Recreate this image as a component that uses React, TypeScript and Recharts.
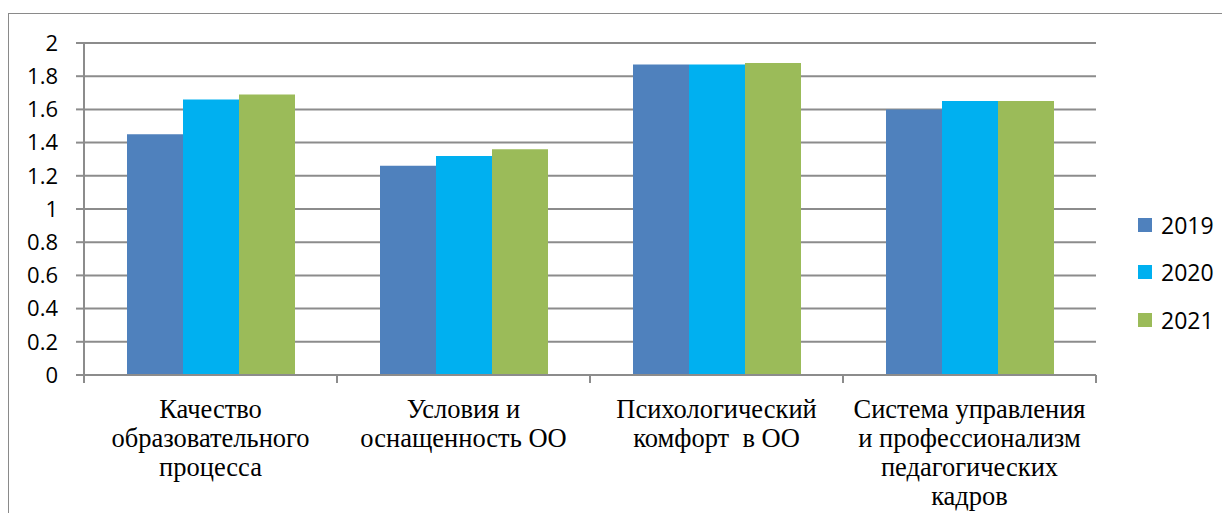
import React from 'react';
import { BarChart, Bar, XAxis, YAxis, CartesianGrid } from 'recharts';

const categories = [
  'Качество\nобразовательного\nпроцесса',
  'Условия и\nоснащенность ОО',
  'Психологический\nкомфорт  в ОО',
  'Система управления\nи профессионализм\nпедагогических\nкадров',
];

const values2019 = [1.45, 1.26, 1.87, 1.6];
const values2020 = [1.66, 1.32, 1.87, 1.65];
const values2021 = [1.69, 1.36, 1.88, 1.65];

const yTicks = [0, 0.2, 0.4, 0.6, 0.8, 1, 1.2, 1.4, 1.6, 1.8, 2];

const series = [
  { key: 'y2019', name: '2019', color: '#4F81BD', values: values2019 },
  { key: 'y2020', name: '2020', color: '#00B0F0', values: values2020 },
  { key: 'y2021', name: '2021', color: '#9BBB59', values: values2021 },
];

const data = categories.map((cat, i) => {
  const row: Record<string, string | number> = { category: cat };
  series.forEach((s) => {
    row[s.key] = s.values[i];
  });
  return row;
});

const GRID = '#8c8c8c';

function CategoryTick(props: any) {
  const { x, y, payload, index, visibleTicksCount } = props;
  const half = payload?.offset ?? 0;
  const lines = String(payload.value).split('\n');
  const isLast = index === (visibleTicksCount ?? categories.length) - 1;
  return (
    <g>
      <line x1={x - half} x2={x - half} y1={y - 8} y2={y} stroke={GRID} strokeWidth={2} />
      {isLast && <line x1={x + half} x2={x + half} y1={y - 8} y2={y} stroke={GRID} strokeWidth={2} />}
      <text
        x={x}
        y={y + 35}
        textAnchor="middle"
        fill="#000"
        style={{ fontFamily: '"Liberation Serif", serif', fontSize: 26.5, whiteSpace: 'pre' }}
      >
        {lines.map((l, i) => (
          <tspan key={i} x={x} dy={i === 0 ? 0 : 29}>
            {l}
          </tspan>
        ))}
      </text>
    </g>
  );
}

export default function App() {
  return (
    <div style={{ position: 'relative', width: 1222, height: 505 }}>
      <div
        style={{
          position: 'absolute',
          left: 0,
          top: 5,
          right: 0,
          bottom: 0,
          borderTop: '1.5px solid #8a8a8a',
          borderLeft: '1.5px solid #8a8a8a',
        }}
      />
      <div style={{ position: 'absolute', left: 0, top: 0 }}>
        <BarChart
          width={1222}
          height={512}
          data={data}
          margin={{ top: 35, right: 134, bottom: 0, left: 0 }}
          barSize={56}
          barGap={0}
        >
          <CartesianGrid vertical={false} stroke={GRID} strokeWidth={2} />
          <XAxis
            dataKey="category"
            height={145}
            interval={0}
            tickSize={8}
            tickMargin={0}
            tickLine={false}
            axisLine={{ stroke: GRID, strokeWidth: 2 }}
            tick={<CategoryTick />}
          />
          <YAxis
            width={76}
            domain={[0, 2]}
            ticks={yTicks}
            interval={0}
            tickSize={8}
            tickMargin={18}
            tickFormatter={(v: number) => String(Number(v.toFixed(1)))}
            axisLine={{ stroke: GRID, strokeWidth: 2 }}
            tickLine={{ stroke: GRID, strokeWidth: 2 }}
            tick={{ fill: '#000', fontSize: 22, fontFamily: '"Open Sans", sans-serif' }}
          />
          {series.map((s) => (
            <Bar key={s.key} dataKey={s.key} name={s.name} fill={s.color} isAnimationActive={false} />
          ))}
        </BarChart>
      </div>
      <div style={{ position: 'absolute', left: 1130, top: 193 }}>
        {series.map((s) => (
          <div key={s.key} style={{ display: 'flex', alignItems: 'center', height: 47.5 }}>
            <div style={{ width: 14, height: 14, background: s.color, marginRight: 9 }} />
            <span style={{ fontFamily: '"Open Sans", sans-serif', fontSize: 23, color: '#000' }}>{s.name}</span>
          </div>
        ))}
      </div>
    </div>
  );
}
